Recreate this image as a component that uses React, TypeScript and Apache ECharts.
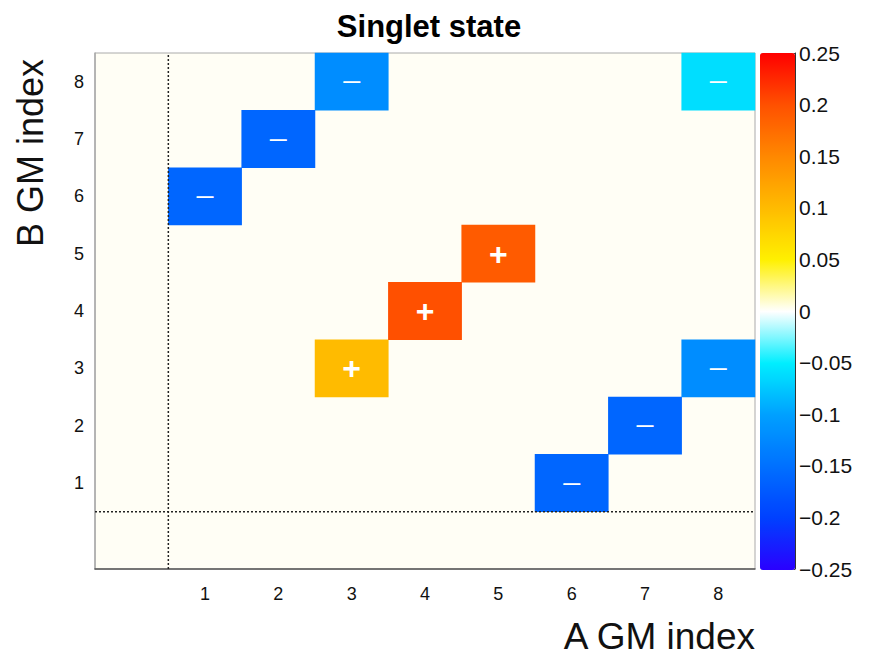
import React, { useEffect, useRef } from "react";
import * as echarts from "echarts";

const xCategories = ["", "1", "2", "3", "4", "5", "6", "7", "8"];
const yCategories = ["", "1", "2", "3", "4", "5", "6", "7", "8"];

const cellX = [6, 7, 8, 1, 2, 3, 8, 3, 4, 5];
const cellY = [1, 2, 3, 6, 7, 8, 8, 3, 4, 5];
const cellValues = [-0.16, -0.16, -0.12, -0.16, -0.16, -0.12, -0.06, 0.1, 0.2, 0.19];

const colorMin = -0.25;
const colorMax = 0.25;
const colorStep = 0.05;
const paletteColors = [
  "#2a00ff", "#0040ff", "#0070ff", "#00a0ff", "#00eeff", "#ffffff",
  "#fff000", "#ffbb00", "#ff8800", "#ff5000", "#ff0000",
];

const dividerX = 0.5;
const dividerY = 0.5;
const axisMin = -0.5;
const axisMax = 8.5;

const FONT = "Liberation Sans, Arial, Helvetica, sans-serif";

export default function App() {
  const ref = useRef<HTMLDivElement>(null);
  useEffect(() => {
    if (!ref.current) return;
    const chart = echarts.init(ref.current, undefined, { renderer: "svg" });
    const data = cellX.map((x, i) => [x, cellY[i], cellValues[i]]);
    const fmt = (v: number) => {
      const r = +v.toFixed(2);
      if (r === 0) return "0";
      return r < 0 ? "\u2212" + Math.abs(r) : String(r);
    };
    chart.setOption({
      animation: false,
      backgroundColor: "#ffffff",
      textStyle: { fontFamily: FONT },
      title: {
        text: "Singlet state",
        left: 424,
        top: 6,
        textAlign: "center",
        textStyle: { fontFamily: FONT, fontSize: 31, fontWeight: "bold", color: "#000" },
      },
      grid: {
        left: 95,
        right: 120,
        top: 53,
        bottom: 86,
        show: true,
        backgroundColor: "#fffef5",
        borderColor: "#aaaaaa",
        borderWidth: 1,
      },
      xAxis: [
        {
          type: "category",
          data: xCategories,
          gridIndex: 0,
          axisLine: { show: true, onZero: false, lineStyle: { color: "#555", width: 1.5 } },
          axisTick: { show: false },
          splitLine: { show: false },
          axisLabel: { fontSize: 18, color: "#111", margin: 16, fontFamily: FONT },
        },
        {
          type: "value",
          min: axisMin,
          max: axisMax,
          show: false,
          gridIndex: 0,
        },
      ],
      yAxis: [
        {
          type: "category",
          data: yCategories,
          gridIndex: 0,
          axisLine: { show: true, onZero: false, lineStyle: { color: "#aaa", width: 1.5 } },
          axisTick: { show: false },
          splitLine: { show: false },
          axisLabel: { fontSize: 18, color: "#111", margin: 11, fontFamily: FONT },
        },
        {
          type: "value",
          min: axisMin,
          max: axisMax,
          show: false,
          gridIndex: 0,
        },
        {
          type: "value",
          min: colorMin,
          max: colorMax,
          interval: colorStep,
          position: "right",
          offset: 40,
          gridIndex: 0,
          axisLine: { show: true, onZero: false, lineStyle: { color: "#333", width: 1 } },
          axisTick: { show: true, inside: true, length: 12, lineStyle: { color: "#333" } },
          splitLine: { show: false },
          axisLabel: {
            fontSize: 21,
            color: "#111",
            margin: 4,
            fontFamily: FONT,
            formatter: fmt,
          },
        },
      ],
      visualMap: {
        type: "continuous",
        min: colorMin,
        max: colorMax,
        calculable: false,
        orient: "vertical",
        left: 760,
        top: 53,
        itemWidth: 35,
        itemHeight: 517,
        padding: 0,
        text: ["", ""],
        showLabel: false,
        inRange: { color: paletteColors },
        seriesIndex: 0,
      },
      series: [
        {
          type: "heatmap",
          xAxisIndex: 0,
          yAxisIndex: 0,
          data,
          label: {
            show: true,
            color: "#ffffff",
            fontFamily: FONT,
            formatter: (p: any) => (p.value[2] > 0 ? "{p|+}" : "{m|\u2014}"),
            rich: {
              p: { fontSize: 32, fontWeight: "bold", color: "#ffffff", fontFamily: FONT },
              m: { fontSize: 17, fontWeight: "bold", color: "#ffffff", fontFamily: FONT },
            },
          },
          itemStyle: { borderWidth: 0 },
          emphasis: { disabled: true },
        },
        {
          type: "line",
          xAxisIndex: 1,
          yAxisIndex: 1,
          data: [[dividerX, axisMin], [dividerX, axisMax]],
          symbol: "none",
          lineStyle: { color: "#222", width: 1.5, type: [2, 2] },
          z: 5,
        },
        {
          type: "line",
          xAxisIndex: 1,
          yAxisIndex: 1,
          data: [[axisMin, dividerY], [axisMax, dividerY]],
          symbol: "none",
          lineStyle: { color: "#222", width: 1.5, type: [2, 2] },
          z: 5,
        },
      ],
      graphic: [
        {
          type: "text",
          x: 30,
          y: 153,
          rotation: Math.PI / 2,
          style: {
            text: "B GM index",
            fontSize: 36,
            fontFamily: FONT,
            fill: "#111",
            align: "center",
            verticalAlign: "middle",
          },
        },
        {
          type: "text",
          x: 755,
          y: 636,
          style: {
            text: "A GM index",
            fontSize: 37,
            fontFamily: FONT,
            fill: "#111",
            align: "right",
            verticalAlign: "middle",
          },
        },
      ],
    });
    return () => chart.dispose();
  }, []);
  return (
    <div
      ref={ref}
      style={{ position: "fixed", left: 0, top: 0, width: 875, height: 655 }}
    />
  );
}
